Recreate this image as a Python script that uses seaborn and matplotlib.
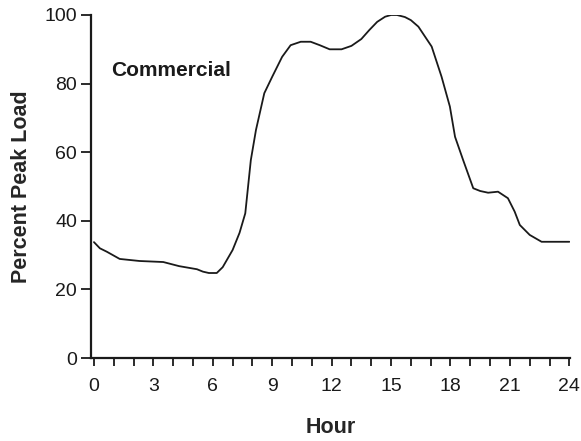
import matplotlib
matplotlib.use("Agg")
import matplotlib.pyplot as plt
import seaborn as sns
import numpy as np
import pandas as pd

# hourly load profile
hour = [0, 0.3, 0.65, 1.3, 2.3, 3.5, 4.3, 5.2, 5.5, 5.8, 6.2, 6.5, 7.0, 7.35, 7.64,
        7.92, 8.18, 8.6, 9.0, 9.5, 9.93, 10.44, 10.94, 11.4, 11.9, 12.5, 13.0,
        13.5, 13.9, 14.3, 14.7, 15.0, 15.3, 15.7, 16.0, 16.38, 17.05, 17.55,
        17.97, 18.23, 18.64, 19.15, 19.5, 19.9, 20.4, 20.9, 21.24, 21.5, 22.0,
        22.6, 23.0, 24.0]
load = [33.8, 32.0, 31.0, 28.9, 28.3, 28.0, 26.8, 25.9, 25.2, 24.8, 24.8, 26.5,
        31.5, 36.5, 42.2, 57.7, 66.5, 77.2, 82.0, 87.8, 91.2, 92.2, 92.2, 91.2,
        90.0, 90.0, 91.0, 93.0, 95.6, 98.0, 99.5, 100.0, 100.0, 99.4, 98.5,
        96.6, 90.8, 82.0, 73.3, 64.5, 57.7, 49.5, 48.7, 48.2, 48.5, 46.6, 42.7,
        38.8, 35.9, 33.9, 33.9, 33.9]

x_ticks = list(range(0, 25))
x_labels = [str(h) if h % 3 == 0 else "" for h in x_ticks]
y_ticks = [0, 20, 40, 60, 80, 100]

df = pd.DataFrame({"Hour": hour, "Load": load})

sns.set_style("ticks")
plt.rcParams["font.family"] = ["Liberation Sans", "DejaVu Sans"]

fig = plt.figure(figsize=(5.81, 4.41), dpi=100)
ax = fig.add_axes([0.1566, 0.188, 0.825, 0.778])

sns.lineplot(data=df, x="Hour", y="Load", color="#1a1a1a", linewidth=1.3, ax=ax)

ax.set_xlim(-0.15, 24.05)
ax.set_ylim(0, 100)
ax.set_xticks(x_ticks)
ax.set_xticklabels(x_labels)
ax.set_yticks(y_ticks)
ax.tick_params(axis="x", direction="out", length=6, width=1.3, pad=8,
               labelsize=14, colors="#1a1a1a")
ax.tick_params(axis="y", direction="out", length=7, width=1.3, pad=3,
               labelsize=14, colors="#1a1a1a")
sns.despine(ax=ax)
for s in ["left", "bottom"]:
    ax.spines[s].set_linewidth(1.6)
    ax.spines[s].set_color("#1a1a1a")

ax.set_xlabel("Hour", fontsize=15.5, fontweight="bold", labelpad=16)
ax.set_ylabel("Percent Peak Load", fontsize=15.5, fontweight="bold", labelpad=9)
ax.text(0.85, 83.7, "Commercial", fontsize=15, fontweight="bold",
        ha="left", va="center", color="#1a1a1a")

fig.savefig("out.png", dpi=100)
